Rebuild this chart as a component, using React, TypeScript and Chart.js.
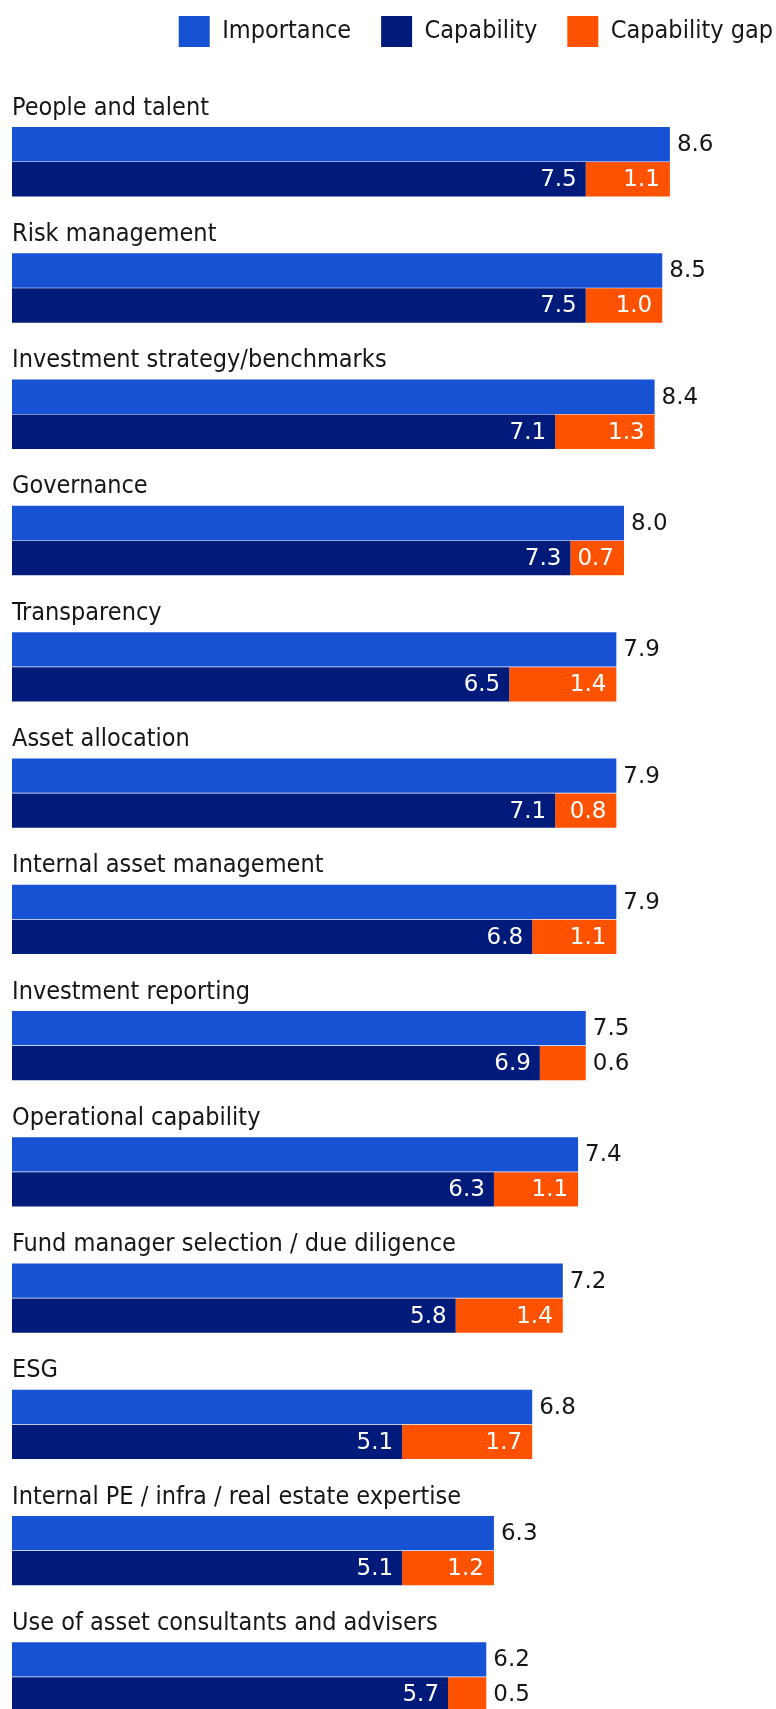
import React, { useEffect, useRef } from "react";
import { Chart, registerables } from "chart.js";

Chart.register(...registerables);

const CATEGORIES = [
  "People and talent",
  "Risk management",
  "Investment strategy/benchmarks",
  "Governance",
  "Transparency",
  "Asset allocation",
  "Internal asset management",
  "Investment reporting",
  "Operational capability",
  "Fund manager selection / due diligence",
  "ESG",
  "Internal PE / infra / real estate expertise",
  "Use of asset consultants and advisers",
];

const IMPORTANCE = [8.6, 8.5, 8.4, 8.0, 7.9, 7.9, 7.9, 7.5, 7.4, 7.2, 6.8, 6.3, 6.2];
const CAPABILITY = [7.5, 7.5, 7.1, 7.3, 6.5, 7.1, 6.8, 6.9, 6.3, 5.8, 5.1, 5.1, 5.7];
const GAP = [1.1, 1.0, 1.3, 0.7, 1.4, 0.8, 1.1, 0.6, 1.1, 1.4, 1.7, 1.2, 0.5];

const SERIES_NAMES = ["Importance", "Capability", "Capability gap"];
const COLORS = ["#1752D4", "#001B7A", "#FF5200"];
const TEXT_COLOR = "#161616";
const X_MAX = 10.34;
const INSIDE_MIN = 0.65;

const CONDENSED = "'DejaVu Sans Condensed', 'DejaVu Sans', sans-serif";
const VALUE_FONT = "'DejaVu Sans', sans-serif";

const CANVAS_W = 803;
const CANVAS_H = 1756;

const labelPlugin = {
  id: "groupLabels",
  afterDatasetsDraw(chart: any) {
    const ctx = chart.ctx;
    const area = chart.chartArea;
    const impMeta = chart.getDatasetMeta(0);
    const capMeta = chart.getDatasetMeta(1);
    const gapMeta = chart.getDatasetMeta(2);
    ctx.save();
    // category titles above each pair of bars
    ctx.font = `25px ${CONDENSED}`;
    ctx.fillStyle = TEXT_COLOR;
    ctx.textAlign = "left";
    ctx.textBaseline = "alphabetic";
    CATEGORIES.forEach((c, i) => {
      const bar = impMeta.data[i];
      const top = bar.y - bar.height / 2;
      ctx.fillText(c, area.left, top - 12.4);
    });
    // values
    ctx.font = `23px ${VALUE_FONT}`;
    ctx.textBaseline = "middle";
    impMeta.data.forEach((bar: any, i: number) => {
      ctx.textAlign = "left";
      ctx.fillStyle = TEXT_COLOR;
      ctx.fillText(IMPORTANCE[i].toFixed(1), bar.x + 7, bar.y + 1);
    });
    capMeta.data.forEach((bar: any, i: number) => {
      ctx.textAlign = "right";
      ctx.fillStyle = "#ffffff";
      ctx.fillText(CAPABILITY[i].toFixed(1), bar.x - 9, bar.y + 1);
    });
    gapMeta.data.forEach((bar: any, i: number) => {
      if (GAP[i] >= INSIDE_MIN) {
        ctx.textAlign = "right";
        ctx.fillStyle = "#ffffff";
        ctx.fillText(GAP[i].toFixed(1), bar.x - 10, bar.y + 1);
      } else {
        ctx.textAlign = "left";
        ctx.fillStyle = TEXT_COLOR;
        ctx.fillText(GAP[i].toFixed(1), bar.x + 7, bar.y + 1);
      }
    });
    ctx.restore();
  },
};

export default function App() {
  const ref = useRef<HTMLCanvasElement | null>(null);

  useEffect(() => {
    if (!ref.current) return;
    const chart = new Chart(ref.current, {
      type: "bar",
      data: {
        labels: CATEGORIES,
        datasets: [
          {
            label: SERIES_NAMES[0],
            data: IMPORTANCE,
            backgroundColor: COLORS[0],
            borderWidth: 0,
            stack: "imp",
          },
          {
            label: SERIES_NAMES[1],
            data: CAPABILITY,
            backgroundColor: COLORS[1],
            borderWidth: 0,
            stack: "cap",
          },
          {
            label: SERIES_NAMES[2],
            data: GAP,
            backgroundColor: COLORS[2],
            borderWidth: 0,
            stack: "cap",
          },
        ],
      },
      options: {
        indexAxis: "y",
        responsive: false,
        animation: false,
        categoryPercentage: 0.5544,
        barPercentage: 0.98,
        layout: { padding: { left: 12, right: 0, top: 0, bottom: 2 } },
        plugins: {
          tooltip: { enabled: false },
          legend: {
            position: "top",
            align: "end",
            labels: {
              boxWidth: 31,
              boxHeight: 31,
              padding: 30,
              color: TEXT_COLOR,
              font: { family: CONDENSED, size: 25 },
            },
          },
        },
        scales: {
          x: {
            type: "linear",
            position: "top",
            min: 0,
            max: X_MAX,
            stacked: true,
            grid: { display: false },
            border: { display: false },
            ticks: { display: false },
            afterFit: (scale: any) => {
              scale.height = 41.6;
            },
          },
          y: {
            type: "category",
            display: false,
            stacked: true,
          },
        },
      },
      plugins: [labelPlugin],
    } as any);
    return () => chart.destroy();
  }, []);

  return (
    <div
      style={{
        position: "fixed",
        left: 0,
        top: 0,
        width: 776,
        height: 1709,
        overflow: "hidden",
        background: "#ffffff",
      }}
    >
      <canvas
        ref={ref}
        width={CANVAS_W}
        height={CANVAS_H}
        style={{
          position: "absolute",
          left: 0,
          top: -14,
          width: CANVAS_W,
          height: CANVAS_H,
        }}
      />
    </div>
  );
}
